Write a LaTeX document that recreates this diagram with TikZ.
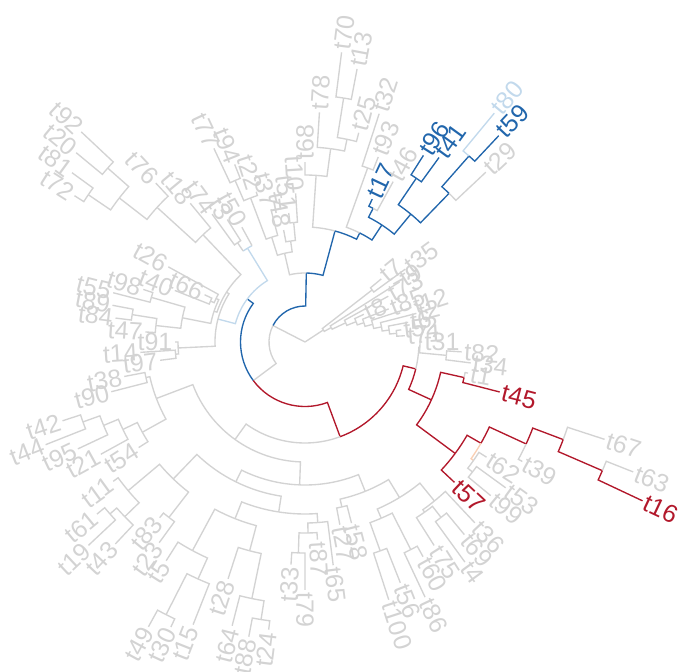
\documentclass[tikz,border=0pt]{standalone}
\usepackage{fontspec}
\setmainfont{Liberation Sans}
\definecolor{tgray}{HTML}{D3D3D3}
\definecolor{tblue}{HTML}{2166AC}
\definecolor{tlblue}{HTML}{C2D9EC}
\definecolor{tred}{HTML}{B2182B}
\definecolor{tora}{HTML}{F9CFB4}
\newcommand\Br[5]{\pgfmathsetmacro\brA{-3.6*(#2)}\pgfmathsetmacro\brB{-3.6*(#4)}%
  \draw[#1] (\brA:#3pt) arc[start angle=\brA,end angle=\brB,radius=#3pt] -- (\brB:#5pt);}
\newcommand\Bx[6]{\pgfmathsetmacro\brA{-3.6*(#3)}\pgfmathsetmacro\brB{-3.6*(#5)}%
  \draw[#1] (\brA:#4pt) arc[start angle=\brA,end angle=\brB,radius=#4pt];
  \draw[#2] (\brB:#4pt) -- (\brB:#6pt);}
\newcommand\Lb[4]{\pgfmathsetmacro\brA{-3.6*(#2)}%
  \pgfmathtruncatemacro\brS{((#2)<=25 || (#2)>=75) ? 1 : 0}%
  \ifnum\brS=1 \node[lab,text=#1,rotate=\brA,anchor=west] (#4) at (\brA:#3pt) {#4};%
  \else\pgfmathsetmacro\brC{\brA+180}\node[lab,text=#1,rotate=\brC,anchor=east] (#4) at (\brA:#3pt) {#4};\fi}
\tikzset{lab/.style={font=\fontsize{25}{25}\selectfont,inner xsep=2pt,inner ysep=0pt,text depth=0pt}}
\begin{document}
\begin{tikzpicture}[x=1pt,y=1pt,line width=1.35pt]
\useasboundingbox (-305,-330) rectangle (373,342);
% root
\draw[tgray] (0,0) -- ({-3.6*90.75}:22pt);
\draw[tgray] (0,0) -- ({-3.6*57.55}:36pt);
% cluster A
\Br{tgray}{90.75}{22}{89.5}{85}\Br{tgray}{90.75}{22}{91.99}{30}
\Br{tgray}{89.5}{85}{89}{99}\Br{tgray}{89.5}{85}{90}{124}
\Br{tgray}{91.99}{30}{91}{112}\Br{tgray}{91.99}{30}{92.99}{45}
\Br{tgray}{92.99}{45}{92}{95}\Br{tgray}{92.99}{45}{93.98}{55}
\Br{tgray}{93.98}{55}{93}{65}\Br{tgray}{93.98}{55}{94.97}{62}
\Br{tgray}{94.97}{62}{94}{90}\Br{tgray}{94.97}{62}{95.94}{70}
\Br{tgray}{95.94}{70}{95}{112}\Br{tgray}{95.94}{70}{96.9}{78}
\Br{tgray}{96.9}{78}{96}{115}\Br{tgray}{96.9}{78}{97.75}{85}
\Br{tgray}{97.75}{85}{97}{105}\Br{tgray}{97.75}{85}{98.5}{92}
\Br{tgray}{98.5}{92}{98}{97}\Br{tgray}{98.5}{92}{99}{100}
% B
\Br{tblue}{57.55}{36}{75.3}{69}\Br{tgray}{57.55}{36}{39.8}{64.5}
% B1
\Br{tgray}{75.3}{69}{71.4}{91}\Br{tblue}{75.3}{69}{79.2}{115}
\Br{tgray}{71.4}{91}{70.1}{110}\Br{tgray}{71.4}{91}{72.75}{102}
\Br{tgray}{70.1}{110}{69.25}{154}\Br{tgray}{70.1}{110}{71}{137}
\Br{tgray}{69.25}{154}{68.5}{176}\Br{tgray}{69.25}{154}{70}{158}
\Br{tgray}{68.5}{176}{68}{214}\Br{tgray}{68.5}{176}{69}{191}
\Br{tgray}{72.75}{102}{72}{114}\Br{tgray}{72.75}{102}{73.5}{120}
\Br{tgray}{73.5}{120}{73}{130}\Br{tgray}{73.5}{120}{74}{149}
\Br{tgray}{79.2}{115}{76.06}{167}\Br{tblue}{79.2}{115}{82.4}{122}
\Br{tgray}{76.06}{167}{75}{180}\Br{tgray}{76.06}{167}{77.1}{195}
\Br{tgray}{77.1}{195}{76}{230}\Br{tgray}{77.1}{195}{78.25}{207}
\Br{tgray}{78.25}{207}{77.5}{247}\Br{tgray}{78.25}{207}{79}{216}
\Br{tgray}{77.5}{247}{77}{292}\Br{tgray}{77.5}{247}{78}{278}
\Br{tgray}{82.4}{122}{80.5}{185}\Br{tblue}{82.4}{122}{84.25}{140}
\Br{tgray}{80.5}{185}{80}{240}\Br{tgray}{80.5}{185}{81}{199}
\Br{tblue}{84.25}{140}{82.5}{150}\Br{tblue}{84.25}{140}{86}{166}
\Br{tblue}{82.5}{150}{82}{158}\Br{tgray}{82.5}{150}{83}{183}
\Br{tblue}{86}{166}{84.5}{198}\Br{tblue}{86}{166}{87.25}{207}
\Br{tblue}{84.5}{198}{84}{221}\Br{tblue}{84.5}{198}{85}{228}
\Br{tblue}{87.25}{207}{86.5}{248}\Br{tgray}{87.25}{207}{88}{248}
\Br{tlblue}{86.5}{248}{86}{297}\Br{tblue}{86.5}{248}{87}{283}
% N1
\Br{tblue}{39.8}{64.5}{60.2}{72}\Br{tred}{39.8}{64.5}{19.35}{101}
% X
\Br{tlblue}{60.2}{72}{54.1}{90}\Br{tlblue}{60.2}{72}{66.25}{110}
\Br{tgray}{54.1}{90}{49.25}{127}\Br{tgray}{54.1}{90}{59}{93}
\Br{tgray}{49.25}{127}{48.5}{130}\Br{tgray}{49.25}{127}{50}{130}
\Br{tgray}{48.5}{130}{48}{146}\Br{tgray}{48.5}{130}{49}{165}
\Br{tgray}{59}{93}{55.2}{96}\Br{tgray}{59}{93}{62.9}{148}
\Br{tgray}{55.2}{96}{53.1}{125}\Br{tgray}{55.2}{96}{57.25}{99}
\Br{tgray}{53.1}{125}{51.75}{150}\Br{tgray}{53.1}{125}{54.5}{160}
\Br{tgray}{51.75}{150}{51}{160}\Br{tgray}{51.75}{150}{52.5}{175}
\Br{tgray}{52.5}{175}{52}{191}\Br{tgray}{52.5}{175}{53}{196}
\Br{tgray}{54.5}{160}{54}{198}\Br{tgray}{54.5}{160}{55}{170}
\Br{tgray}{57.25}{99}{56.5}{103}\Br{tgray}{57.25}{99}{58}{156}
\Br{tgray}{56.5}{103}{56}{140}\Br{tgray}{56.5}{103}{57}{111}
\Br{tgray}{62.9}{148}{61.75}{200}\Br{tgray}{62.9}{148}{64}{180}
\Br{tgray}{61.75}{200}{60.5}{235}\Br{tgray}{61.75}{200}{63}{218}
\Br{tgray}{60.5}{235}{59.5}{262}\Br{tgray}{60.5}{235}{61.5}{263}
\Br{tgray}{59.5}{262}{59}{273}\Br{tgray}{59.5}{262}{60}{288}
\Br{tgray}{61.5}{263}{61}{297}\Br{tgray}{61.5}{263}{62}{307}
\Bx{tlblue}{tgray}{66.25}{110}{65.5}{120}\Bx{tlblue}{tgray}{66.25}{110}{67}{131}
\Br{tgray}{65.5}{120}{65}{158}\Br{tgray}{65.5}{120}{66}{145}
% Y
\Br{tred}{19.35}{101}{3.79}{114}\Br{tgray}{19.35}{101}{34.91}{120}
\Br{tgray}{3.79}{114}{0.75}{115}\Br{tred}{3.79}{114}{6.83}{139}
\Br{tgray}{0.75}{115}{0}{117}\Br{tgray}{0.75}{115}{1.5}{142}
\Br{tgray}{1.5}{142}{1}{157}\Br{tgray}{1.5}{142}{2}{167}
\Br{tred}{6.83}{139}{3.5}{163}\Br{tred}{6.83}{139}{10.16}{187}
\Br{tgray}{3.5}{163}{3}{166}\Br{tred}{3.5}{163}{4}{201}
\Br{tred}{10.16}{187}{8.31}{203}\Br{tred}{10.16}{187}{12}{205}
\Br{tred}{8.31}{203}{6.875}{243.5}\Br{tora}{8.31}{203}{9.75}{206}
\Br{tgray}{6.875}{243.5}{8}{248}\Br{tred}{6.875}{243.5}{5.75}{276}
\Br{tgray}{5.75}{276}{5}{315}\Br{tred}{5.75}{276}{6.5}{324}
\Br{tgray}{6.5}{324}{6}{353}\Br{tred}{6.5}{324}{7}{373}
\Br{tgray}{9.75}{206}{9}{215}\Br{tgray}{9.75}{206}{10.5}{212}
\Br{tgray}{10.5}{212}{10}{248}\Br{tgray}{10.5}{212}{11}{241}
\Br{tgray}{34.91}{120}{25.6}{143}\Br{tgray}{34.91}{120}{44.22}{159}
\Br{tgray}{25.6}{143}{18.9}{161}\Br{tgray}{25.6}{143}{32.31}{156}
\Br{tgray}{18.9}{161}{21.5}{169}\Br{tgray}{18.9}{161}{16.31}{182}
\Br{tgray}{21.5}{169}{21}{187}\Br{tgray}{21.5}{169}{22}{186}
\Br{tgray}{16.31}{182}{14.125}{205}\Br{tgray}{16.31}{182}{18.5}{192}
\Br{tgray}{14.125}{205}{13}{248}\Br{tgray}{14.125}{205}{15.25}{208}
\Br{tgray}{15.25}{208}{14.5}{222}\Br{tgray}{15.25}{208}{16}{241}
\Br{tgray}{14.5}{222}{14}{250}\Br{tgray}{14.5}{222}{15}{272}
\Br{tgray}{18.5}{192}{17.5}{233}\Br{tgray}{18.5}{192}{19.5}{222}
\Br{tgray}{17.5}{233}{17}{245}\Br{tgray}{17.5}{233}{18}{282}
\Br{tgray}{19.5}{222}{19}{259}\Br{tgray}{19.5}{222}{20}{271}
\Br{tgray}{32.31}{156}{27.44}{172}\Br{tgray}{32.31}{156}{37.19}{190}
\Br{tgray}{27.44}{172}{23.875}{181}\Br{tgray}{27.44}{172}{31}{190}
\Br{tgray}{23.875}{181}{24.75}{191}\Br{tgray}{23.875}{181}{23}{225}
\Br{tgray}{24.75}{191}{25.5}{211}\Br{tgray}{24.75}{191}{24}{198}
\Br{tgray}{25.5}{211}{25}{248}\Br{tgray}{25.5}{211}{26}{223}
\Br{tgray}{31}{190}{32.875}{237}\Br{tgray}{31}{190}{29.125}{216}
\Br{tgray}{32.875}{237}{34}{259}\Br{tgray}{32.875}{237}{31.75}{260}
\Br{tgray}{31.75}{260}{31}{304}\Br{tgray}{31.75}{260}{32.5}{306}
\Br{tgray}{32.5}{306}{32}{315}\Br{tgray}{32.5}{306}{33}{325}
\Br{tgray}{29.125}{216}{30}{249}\Br{tgray}{29.125}{216}{28.25}{262}
\Br{tgray}{28.25}{262}{29}{293}\Br{tgray}{28.25}{262}{27.5}{281}
\Br{tgray}{27.5}{281}{27}{290}\Br{tgray}{27.5}{281}{28}{300}
\Br{tgray}{37.19}{190}{35.5}{222}\Br{tgray}{37.19}{190}{38.875}{231}
\Br{tgray}{35.5}{222}{35}{248}\Br{tgray}{35.5}{222}{36}{228}
\Br{tgray}{38.875}{231}{37.75}{251}\Br{tgray}{38.875}{231}{40}{237}
\Br{tgray}{37.75}{251}{37}{277}\Br{tgray}{37.75}{251}{38.5}{260}
\Br{tgray}{38.5}{260}{38}{297}\Br{tgray}{38.5}{260}{39}{270}
\Br{tgray}{44.22}{159}{41.94}{186}\Br{tgray}{44.22}{159}{46.5}{163}
\Br{tgray}{41.94}{186}{41}{197}\Br{tgray}{41.94}{186}{42.875}{202}
\Br{tgray}{42.875}{202}{42}{233}\Br{tgray}{42.875}{202}{43.75}{218}
\Br{tgray}{43.75}{218}{43}{251}\Br{tgray}{43.75}{218}{44.5}{236}
\Br{tgray}{44.5}{236}{44}{279}\Br{tgray}{44.5}{236}{45}{255}
\Br{tgray}{46.5}{163}{46}{200}\Br{tgray}{46.5}{163}{47}{184}
% labels
\Lb{tgray}{0}{117}{t31}\Lb{tgray}{1}{157}{t82}\Lb{tgray}{2}{167}{t34}\Lb{tgray}{3}{166}{t1}
\Lb{tred}{4}{201}{t45}\Lb{tgray}{5}{315}{t67}\Lb{tgray}{6}{353}{t63}\Lb{tred}{7}{373}{t16}
\Lb{tgray}{8}{248}{t39}\Lb{tgray}{9}{215}{t62}\Lb{tgray}{10}{248}{t53}\Lb{tgray}{11}{241}{t99}
\Lb{tred}{12}{205}{t57}\Lb{tgray}{13}{248}{t36}\Lb{tgray}{14}{250}{t69}\Lb{tgray}{15}{272}{t4}
\Lb{tgray}{16}{241}{t75}\Lb{tgray}{17}{245}{t60}\Lb{tgray}{18}{282}{t86}\Lb{tgray}{19}{259}{t56}
\Lb{tgray}{20}{271}{t100}\Lb{tgray}{21}{187}{t58}\Lb{tgray}{22}{186}{t27}\Lb{tgray}{23}{225}{t65}
\Lb{tgray}{24}{198}{t87}\Lb{tgray}{25}{248}{t79}\Lb{tgray}{26}{223}{t33}\Lb{tgray}{27}{290}{t24}
\Lb{tgray}{28}{300}{t88}\Lb{tgray}{29}{293}{t64}\Lb{tgray}{30}{249}{t28}\Lb{tgray}{31}{304}{t15}
\Lb{tgray}{32}{315}{t30}\Lb{tgray}{33}{325}{t49}\Lb{tgray}{34}{259}{t5}\Lb{tgray}{35}{248}{t23}
\Lb{tgray}{36}{228}{t83}\Lb{tgray}{37}{277}{t43}\Lb{tgray}{38}{297}{t19}\Lb{tgray}{39}{270}{t61}
\Lb{tgray}{40}{237}{t11}\Lb{tgray}{41}{197}{t54}\Lb{tgray}{42}{233}{t21}\Lb{tgray}{43}{251}{t95}
\Lb{tgray}{44}{279}{t44}\Lb{tgray}{45}{255}{t42}\Lb{tgray}{46}{200}{t90}\Lb{tgray}{47}{184}{t38}
\Lb{tgray}{48}{146}{t97}\Lb{tgray}{49}{165}{t14}\Lb{tgray}{50}{130}{t91}\Lb{tgray}{51}{160}{t47}
\Lb{tgray}{52}{191}{t84}\Lb{tgray}{53}{196}{t89}\Lb{tgray}{54}{198}{t55}\Lb{tgray}{55}{170}{t98}
\Lb{tgray}{56}{140}{t40}\Lb{tgray}{57}{111}{t66}\Lb{tgray}{58}{156}{t26}\Lb{tgray}{59}{273}{t72}
\Lb{tgray}{60}{288}{t81}\Lb{tgray}{61}{297}{t20}\Lb{tgray}{62}{307}{t92}\Lb{tgray}{63}{218}{t76}
\Lb{tgray}{64}{180}{t18}\Lb{tgray}{65}{158}{t74}\Lb{tgray}{66}{145}{t3}\Lb{tgray}{67}{131}{t50}
\Lb{tgray}{68}{214}{t77}\Lb{tgray}{69}{191}{t94}\Lb{tgray}{70}{158}{t22}\Lb{tgray}{71}{137}{t37}
\Lb{tgray}{72}{114}{t48}\Lb{tgray}{73}{130}{t51}\Lb{tgray}{74}{149}{t10}\Lb{tgray}{75}{180}{t68}
\Lb{tgray}{76}{230}{t78}\Lb{tgray}{77}{292}{t70}\Lb{tgray}{78}{278}{t13}\Lb{tgray}{79}{216}{t25}
\Lb{tgray}{80}{240}{t32}\Lb{tgray}{81}{199}{t93}\Lb{tblue}{82}{158}{t17}\Lb{tgray}{83}{183}{t46}
\Lb{tblue}{84}{221}{t96}\Lb{tblue}{85}{228}{t41}\Lb{tlblue}{86}{297}{t80}\Lb{tblue}{87}{283}{t59}
\Lb{tgray}{88}{248}{t29}\Lb{tgray}{89}{99}{t7}\Lb{tgray}{90}{124}{t35}\Lb{tgray}{91}{112}{t9}
\Lb{tgray}{92}{95}{t73}\Lb{tgray}{93}{65}{t8}\Lb{tgray}{94}{90}{t85}\Lb{tgray}{95}{112}{t12}
\Lb{tgray}{96}{115}{t2}\Lb{tgray}{97}{105}{t6}\Lb{tgray}{98}{97}{t52}\Lb{tgray}{99}{100}{t71}
\end{tikzpicture}
\end{document}
